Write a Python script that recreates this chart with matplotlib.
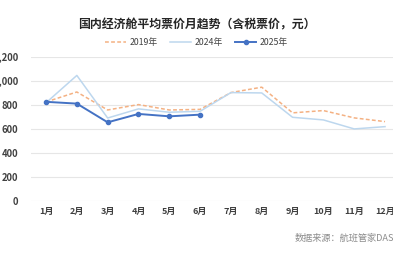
import matplotlib
matplotlib.use("Agg")
import matplotlib.pyplot as plt
from matplotlib.ticker import FuncFormatter

plt.rcParams['font.family'] = ['Noto Sans CJK SC', 'DejaVu Sans']

months = ["1月", "2月", "3月", "4月", "5月", "6月", "7月", "8月", "9月", "10月", "11月", "12月"]
fare_2019 = [822, 905, 755, 800, 755, 760, 900, 945, 731, 750, 689, 658]
fare_2024 = [815, 1043, 688, 764, 736, 744, 900, 897, 694, 672, 597, 616]
fare_2025 = [823, 808, 652, 722, 702, 716]
yticks = [0, 200, 400, 600, 800, 1000, 1200]

fig = plt.figure(figsize=(3.93, 2.67), dpi=100)
ax = fig.add_axes([0.0779, 0.249, 0.941, 0.539])

x = list(range(len(months)))
ax.plot(x, fare_2019, color="#F4B183", lw=1.1, ls=(0, (2.5, 1.5)), label="2019年")
ax.plot(x, fare_2024, color="#BDD7EE", lw=1.1, label="2024年")
ax.plot(x[:len(fare_2025)], fare_2025, color="#4472C4", lw=1.4, marker="o", ms=3, label="2025年")

ax.set_xlim(-0.5, 11.5)
ax.set_ylim(0, 1200)
ax.set_yticks(yticks)
ax.yaxis.set_major_formatter(FuncFormatter(lambda v, p: f"{int(v):,}"))
ax.set_xticks(x)
ax.set_xticklabels(months)
ax.grid(axis="y", color="#E6E6E6", lw=0.8)
ax.set_axisbelow(True)
for s in ax.spines.values():
    s.set_visible(False)
ax.tick_params(axis="x", length=0, labelsize=6.5, colors="#404040", pad=5)
ax.tick_params(axis="y", length=0, labelsize=6.8, colors="#404040", pad=9)
for lab in ax.get_xticklabels() + ax.get_yticklabels():
    lab.set_fontweight("bold")

fig.text(0.5, 1 - 25 / 267, "国内经济舱平均票价月趋势（含税票价，元）", ha="center", va="center",
         fontsize=8.6, fontweight="bold", color="#262626")
fig.legend(loc="center", bbox_to_anchor=(0.5, 1 - 43 / 267), ncol=3, frameon=False,
           fontsize=6.3, handlelength=2.4, columnspacing=1.4, handletextpad=0.4,
           labelcolor="#404040")
fig.text(295 / 393, 1 - 238 / 267, "数据来源：航班管家DAST", ha="left", va="center",
         fontsize=6.6, color="#8C8C8C")

fig.savefig("out.png", dpi=100)
